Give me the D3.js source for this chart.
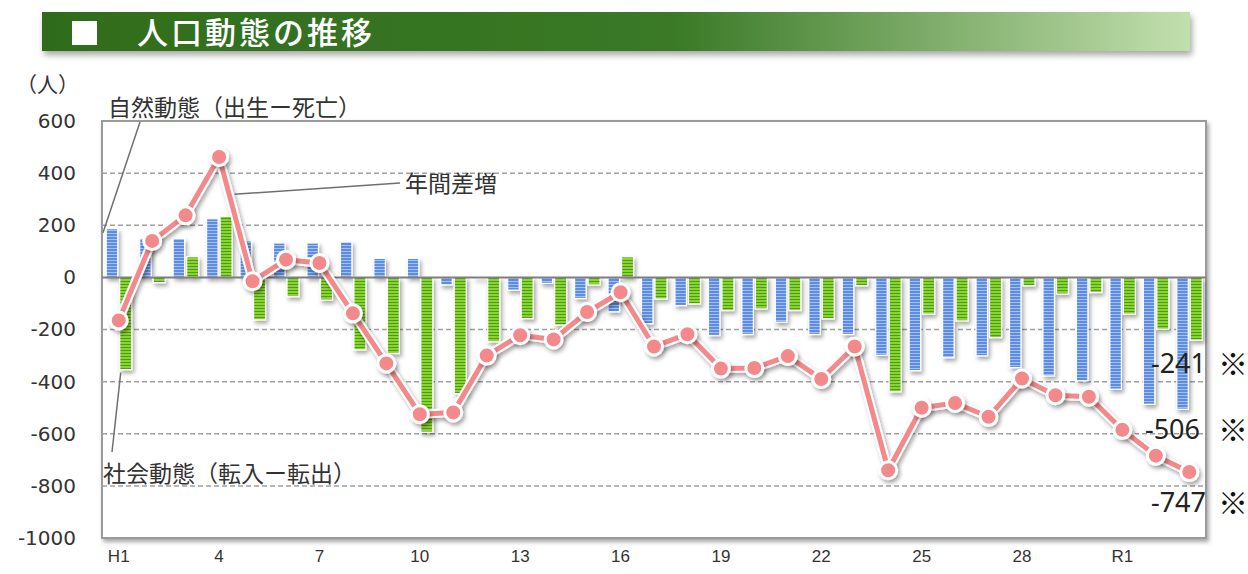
<!DOCTYPE html>
<html><head><meta charset="utf-8">
<script src="https://cdn.jsdelivr.net/npm/d3@7"></script>
<style>body{margin:0;background:#fff;} svg{display:block;}</style>
</head><body>
<svg id="chart" width="1248" height="574"></svg>
<script>
// ---- data ----
const title = "人口動態の推移";
const unitLabel = "（人）";
const categories = ["H1","H2","H3","H4","H5","H6","H7","H8","H9","H10","H11","H12","H13","H14","H15","H16","H17","H18","H19","H20","H21","H22","H23","H24","H25","H26","H27","H28","H29","H30","R1","R2","R3"];
const naturalChange = [187,150,149,225,140,132,132,136,73,73,-29,-3,-49,-23,-81,-132,-178,-108,-223,-219,-172,-219,-219,-299,-358,-308,-301,-346,-378,-397,-429,-487,-506];
const socialChange  = [-354,-20,79,234,-163,-74,-87,-278,-292,-594,-446,-247,-158,-183,-29,79,-83,-102,-127,-121,-127,-159,-32,-439,-141,-167,-231,-32,-64,-58,-141,-199,-241];
const totalChange   = [-165,140,238,462,-15,68,55,-138,-330,-525,-518,-300,-222,-238,-133,-57,-265,-218,-350,-348,-302,-390,-265,-740,-500,-482,-535,-388,-452,-458,-585,-684,-747];
const yTicks = [600,400,200,0,-200,-400,-600,-800,-1000];
const xTickCats = ["H1","H4","H7","H10","H13","H16","H19","H22","H25","H28","R1"];
const xTickText = ["H1","4","7","10","13","16","19","22","25","28","R1"];
const naturalName = "自然動態（出生ー死亡）";
const socialName = "社会動態（転入ー転出）";
const totalName = "年間差増";

// ---- layout ----
const svg = d3.select("#chart");
const L = 102, R = 1206, T = 121, B = 538;
const x = d3.scaleBand().domain(categories).range([L, R]).padding(0);
const y = d3.scaleLinear().domain([-1000, 600]).range([B, T]);
const bw = x.bandwidth();
const cx = c => x(c) + bw / 2;

const defs = svg.append("defs");
const hg = defs.append("linearGradient").attr("id","hg").attr("x1","0").attr("x2","1");
hg.append("stop").attr("offset","0%").attr("stop-color","#2f6c1d");
hg.append("stop").attr("offset","55%").attr("stop-color","#3a7926");
hg.append("stop").attr("offset","100%").attr("stop-color","#c2dfae");
const sh = defs.append("filter").attr("id","sh").attr("x","-30%").attr("y","-30%").attr("width","160%").attr("height","160%");
sh.append("feDropShadow").attr("dx",2).attr("dy",3).attr("stdDeviation",2.2).attr("flood-color","#000").attr("flood-opacity",0.35);
const sh2 = defs.append("filter").attr("id","sh2").attr("x","-10%").attr("y","-50%").attr("width","120%").attr("height","200%");
sh2.append("feDropShadow").attr("dx",2).attr("dy",4).attr("stdDeviation",3).attr("flood-color","#000").attr("flood-opacity",0.35);
const pb = defs.append("pattern").attr("id","pb").attr("patternUnits","userSpaceOnUse").attr("width",6).attr("height",3);
pb.append("rect").attr("width",6).attr("height",3).attr("fill","#5b8de2");
pb.append("rect").attr("y",2).attr("width",6).attr("height",1).attr("fill","#a3c0f0");
const pg = defs.append("pattern").attr("id","pg").attr("patternUnits","userSpaceOnUse").attr("width",6).attr("height",3);
pg.append("rect").attr("width",6).attr("height",3).attr("fill","#8ad432");
pg.append("rect").attr("y",2).attr("width",6).attr("height",1).attr("fill","#4e9b16");

// ---- header ----
svg.append("rect").attr("x",42).attr("y",12).attr("width",1148).attr("height",39)
  .attr("fill","url(#hg)").attr("filter","url(#sh2)");
svg.append("rect").attr("x",72).attr("y",21).attr("width",25).attr("height",24).attr("fill","#fff");
svg.append("text").attr("x",137).attr("y",44).attr("fill","#fff")
  .attr("font-family","'Noto Sans CJK JP'").attr("font-weight",500).attr("font-size",31)
  .attr("letter-spacing",3).text(title);

// ---- frame & grid ----
svg.append("rect").attr("x",L).attr("y",T).attr("width",R-L).attr("height",B-T)
  .attr("fill","#fff").attr("stroke","#9a9a9a").attr("stroke-width",2).attr("filter","url(#sh)");
svg.append("g").selectAll("line").data(yTicks.filter(v => v !== 0 && v !== 600 && v !== -1000)).join("line")
  .attr("x1",L).attr("x2",R).attr("y1",d=>y(d)).attr("y2",d=>y(d))
  .attr("stroke","#a0a0a0").attr("stroke-width",1.5).attr("stroke-dasharray","5,3");

// ---- axes ----
const yAxis = svg.append("g").attr("transform",`translate(${L},0)`)
  .call(d3.axisLeft(y).tickValues(yTicks).tickSize(0).tickPadding(26).tickFormat(d => String(d)));
yAxis.select(".domain").remove();
yAxis.selectAll("text").attr("font-family","'DejaVu Sans'").attr("font-size",20).attr("fill","#333");
const xAxis = svg.append("g").attr("transform",`translate(0,${B})`)
  .call(d3.axisBottom(x).tickValues(xTickCats).tickSize(0).tickPadding(12)
    .tickFormat(d => xTickText[xTickCats.indexOf(d)]));
xAxis.select(".domain").remove();
xAxis.selectAll("text").attr("font-family","'Liberation Sans'").attr("font-size",17).attr("fill","#333");
svg.append("text").attr("x",16).attr("y",92).attr("font-family","'Noto Sans CJK JP'")
  .attr("font-size",21).attr("fill","#333").text(unitLabel);

// ---- bars ----
const gb = svg.append("g").attr("filter","url(#sh)");
gb.selectAll("rect.n").data(categories).join("rect").attr("class","n")
  .attr("x", c => cx(c) - 12.5).attr("width", 11.5)
  .attr("y", (c,i) => y(Math.max(0, naturalChange[i])))
  .attr("height", (c,i) => Math.abs(y(naturalChange[i]) - y(0)))
  .attr("fill","url(#pb)").attr("stroke","#fff").attr("stroke-width",1.2);
gb.selectAll("rect.s").data(categories).join("rect").attr("class","s")
  .attr("x", c => cx(c) + 1).attr("width", 12)
  .attr("y", (c,i) => y(Math.max(0, socialChange[i])))
  .attr("height", (c,i) => Math.abs(y(socialChange[i]) - y(0)))
  .attr("fill","url(#pg)").attr("stroke","#fff").attr("stroke-width",1.2);

svg.append("line").attr("x1",L).attr("x2",R).attr("y1",y(0)).attr("y2",y(0))
  .attr("stroke","#7f7f7f").attr("stroke-width",2);

// ---- line ----
const line = d3.line().x((d,i) => cx(categories[i])).y(d => y(d));
svg.append("path").datum(totalChange).attr("d",line).attr("fill","none")
  .attr("stroke","#fff").attr("stroke-width",9).attr("stroke-linejoin","round").attr("filter","url(#sh)");
svg.append("path").datum(totalChange).attr("d",line).attr("fill","none")
  .attr("stroke","#f3898b").attr("stroke-width",5).attr("stroke-linejoin","round");
svg.append("g").attr("filter","url(#sh)").selectAll("circle").data(totalChange).join("circle")
  .attr("cx",(d,i) => cx(categories[i])).attr("cy", d => y(d)).attr("r",8.5)
  .attr("fill","#f3898b").attr("stroke","#fff").attr("stroke-width",3);

// ---- annotations ----
const tf = "'Noto Sans CJK JP'";
const leader = (x1,y1,x2,y2) => svg.append("line").attr("x1",x1).attr("y1",y1).attr("x2",x2).attr("y2",y2)
  .attr("stroke","#707070").attr("stroke-width",1.5);
leader(140,122, x(categories[0]) + 1, y(naturalChange[0]) + 4);
svg.append("text").attr("x",108).attr("y",116).attr("font-family",tf).attr("font-size",23).attr("fill","#333").text(naturalName);
const p3 = [cx(categories[3]), y(totalChange[3])], p4 = [cx(categories[4]), y(totalChange[4])];
leader(p3[0] + (p4[0]-p3[0])*0.4 + 2, p3[1] + (p4[1]-p3[1])*0.3, 400, 183);
svg.append("text").attr("x",405).attr("y",192).attr("font-family",tf).attr("font-size",23).attr("fill","#333").text(totalName);
leader(cx(categories[0]) + 2, y(socialChange[0]) + 3, 112, 452);
svg.append("text").attr("x",103).attr("y",482).attr("font-family",tf).attr("font-size",23).attr("fill","#333").text(socialName);

const last = categories.length - 1;
const endLabels = [
  {v: socialChange[last], dy: 23, xr: 1206},
  {v: naturalChange[last], dy: 20, xr: 1200},
  {v: totalChange[last], dy: 30, xr: 1206}
];
endLabels.forEach(e => {
  svg.append("text").attr("x", e.xr).attr("y", y(e.v) + e.dy).attr("dy","0.35em")
    .attr("text-anchor","end").attr("font-family","'Noto Sans'").attr("font-size",27).attr("fill","#222").text(e.v);
  svg.append("text").attr("x", 1233).attr("y", y(e.v) + e.dy + 1).attr("dy","0.35em")
    .attr("text-anchor","middle").attr("font-family",tf).attr("font-size",30).attr("fill","#111").text("※");
});
</script>
</body></html>
